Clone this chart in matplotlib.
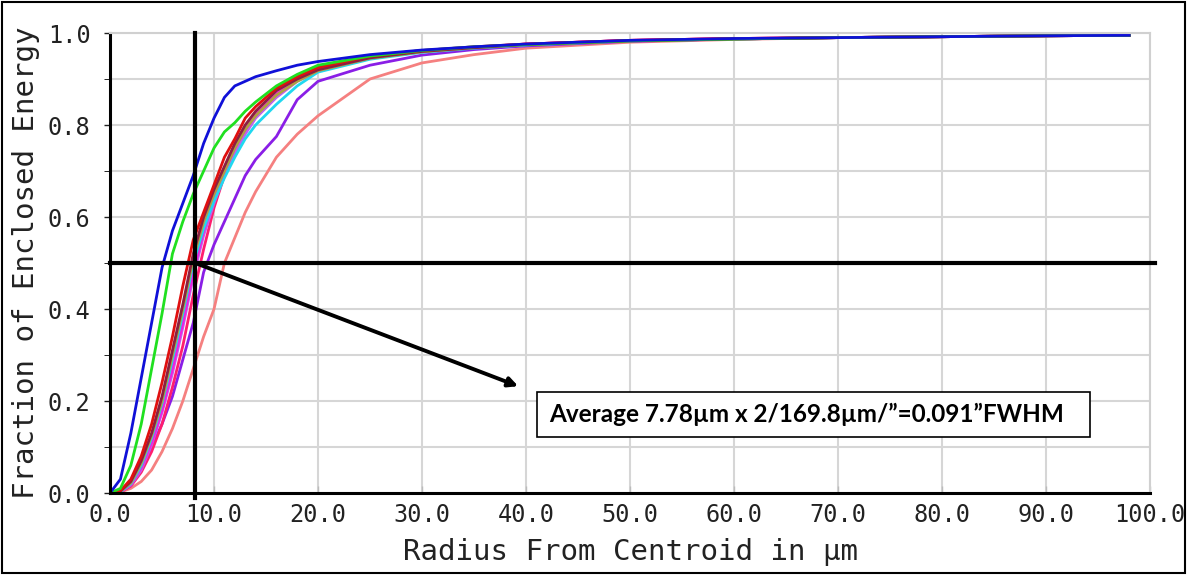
#Enclosed energy curves with FWHM marker lines and annotation box

import numpy as np; import matplotlib.pyplot as plt
from matplotlib.patches import Rectangle

#Radius samples (um) shared by every curve
radius = [0, 1, 2, 3, 4, 5, 6, 7, 8, 9, 10, 11, 12, 13, 14, 16, 18, 20, 25, 30, 35, 40, 50, 60, 70, 80, 90, 98]

#Fraction of enclosed energy, one list per field point
ee_blue    = [0, 0.03, 0.13, 0.25, 0.37, 0.49, 0.57, 0.63, 0.69, 0.76, 0.815, 0.86, 0.885, 0.895, 0.905, 0.918, 0.93, 0.938, 0.953, 0.963, 0.970, 0.976, 0.984, 0.988, 0.990, 0.992, 0.994, 0.995]
ee_green   = [0, 0.01, 0.06, 0.15, 0.27, 0.39, 0.52, 0.59, 0.65, 0.70, 0.75, 0.785, 0.805, 0.83, 0.85, 0.885, 0.91, 0.93, 0.95, 0.962, 0.970, 0.975, 0.983, 0.987, 0.990, 0.992, 0.994, 0.995]
ee_red     = [0, 0.005, 0.03, 0.08, 0.15, 0.24, 0.34, 0.45, 0.55, 0.61, 0.67, 0.73, 0.77, 0.815, 0.84, 0.88, 0.905, 0.925, 0.95, 0.962, 0.970, 0.976, 0.984, 0.988, 0.990, 0.992, 0.994, 0.995]
ee_maroon  = [0, 0.004, 0.025, 0.07, 0.13, 0.21, 0.31, 0.41, 0.52, 0.60, 0.66, 0.71, 0.76, 0.80, 0.83, 0.875, 0.90, 0.92, 0.946, 0.960, 0.968, 0.975, 0.983, 0.987, 0.990, 0.992, 0.994, 0.995]
ee_olive   = [0, 0.004, 0.022, 0.065, 0.125, 0.20, 0.30, 0.40, 0.51, 0.59, 0.65, 0.70, 0.75, 0.79, 0.82, 0.865, 0.895, 0.918, 0.945, 0.959, 0.968, 0.975, 0.983, 0.987, 0.990, 0.992, 0.994, 0.995]
ee_cyan    = [0, 0.003, 0.02, 0.06, 0.12, 0.195, 0.29, 0.39, 0.50, 0.575, 0.635, 0.685, 0.73, 0.77, 0.80, 0.845, 0.885, 0.915, 0.943, 0.958, 0.967, 0.974, 0.983, 0.987, 0.990, 0.992, 0.994, 0.995]
ee_magenta = [0, 0.003, 0.018, 0.055, 0.11, 0.18, 0.27, 0.37, 0.48, 0.57, 0.64, 0.70, 0.75, 0.79, 0.825, 0.87, 0.90, 0.92, 0.948, 0.961, 0.969, 0.976, 0.984, 0.988, 0.990, 0.992, 0.994, 0.995]
ee_orchid  = [0, 0.003, 0.017, 0.05, 0.105, 0.175, 0.26, 0.36, 0.47, 0.56, 0.63, 0.69, 0.74, 0.78, 0.815, 0.86, 0.895, 0.917, 0.945, 0.959, 0.968, 0.975, 0.983, 0.987, 0.990, 0.992, 0.994, 0.995]
ee_pink    = [0, 0.002, 0.015, 0.045, 0.09, 0.15, 0.23, 0.32, 0.43, 0.53, 0.62, 0.69, 0.74, 0.785, 0.82, 0.865, 0.90, 0.92, 0.947, 0.961, 0.969, 0.976, 0.984, 0.988, 0.990, 0.992, 0.994, 0.995]
ee_purple  = [0, 0.003, 0.02, 0.05, 0.10, 0.15, 0.21, 0.29, 0.37, 0.48, 0.54, 0.59, 0.64, 0.69, 0.725, 0.775, 0.855, 0.895, 0.93, 0.952, 0.964, 0.972, 0.982, 0.987, 0.990, 0.992, 0.994, 0.995]
ee_salmon  = [0, 0.002, 0.01, 0.025, 0.05, 0.09, 0.14, 0.20, 0.27, 0.34, 0.40, 0.50, 0.555, 0.61, 0.655, 0.73, 0.78, 0.82, 0.90, 0.935, 0.953, 0.967, 0.980, 0.986, 0.990, 0.992, 0.994, 0.996]

curves = [ee_salmon, ee_purple, ee_pink, ee_orchid, ee_magenta, ee_cyan, ee_olive, ee_maroon, ee_red, ee_green, ee_blue]
colors = ['#f58080', '#8a1ee6', '#ff1e6e', '#c060f0', '#f020e0', '#20d8f0', '#b0a040', '#8a2040', '#e01010', '#20e020', '#1010d8']

fwhm_x = 8.2          #vertical marker
arrow_end = (39.5, 0.23)
note = 'Average 7.78\u00b5m x 2/169.8\u00b5m/\u201d=0.091\u201dFWHM'

fig = plt.figure(figsize=(11.87, 5.75), dpi=100)
ax = fig.add_axes([0.0927, 0.1426, 0.8761, 0.8])

for yv, c in zip(curves, colors):
    ax.plot(radius, yv, color=c, lw=2)

ax.set_xlim(0, 100)
ax.set_ylim(0, 1.0)
ax.set_xticks(np.arange(0, 101, 10))
ax.set_xticklabels(['%.1f' % v for v in np.arange(0, 101, 10)])
ax.set_yticks(np.arange(0, 1.01, 0.2))
ax.set_yticklabels(['%.1f' % v for v in np.arange(0, 1.01, 0.2)])
ax.set_yticks(np.arange(0.1, 1.0, 0.2), minor=True)
ax.grid(True, which='both', axis='y', color='#d6d6d6', lw=1.5)
ax.grid(True, which='major', axis='x', color='#d6d6d6', lw=1.5)
ax.set_axisbelow(True)

mono = 'DejaVu Sans Mono'
ax.tick_params(axis='both', labelsize=17, colors='#222222', length=4, width=1)
ax.tick_params(axis='y', which='both', length=4, pad=10)
ax.tick_params(axis='x', direction='in', length=5, color='#bbbbbb', pad=7)
for lab in ax.get_xticklabels() + ax.get_yticklabels():
    lab.set_family(mono)
ax.set_xlabel('Radius From Centroid in \u00b5m', fontsize=21, family=mono, color='#222222', labelpad=8)
ax.set_ylabel('Fraction of Enclosed Energy', fontsize=21, family=mono, color='#222222', labelpad=6)

for s in ['top', 'right']:
    ax.spines[s].set_color('#d0d0d0')
    ax.spines[s].set_linewidth(1.5)
for s in ['left', 'bottom']:
    ax.spines[s].set_color('black')
    ax.spines[s].set_linewidth(2.2)

#FWHM marker lines
ax.plot([fwhm_x, fwhm_x], [-0.01, 1.0], color='black', lw=3, clip_on=False, zorder=5)
ax.plot([0, 100.5], [0.5, 0.5], color='black', lw=3, clip_on=False, zorder=5)
ax.annotate('', xy=arrow_end, xytext=(fwhm_x, 0.5),
            arrowprops=dict(arrowstyle='-|>', color='black', lw=2.8, mutation_scale=14), zorder=6)

#Annotation box
ax.add_patch(Rectangle((41.1, 0.122), 53.1, 0.098, facecolor='white', edgecolor='black', lw=1.2, zorder=6))
ax.text(42.2, 0.171, note, fontsize=17.5, fontweight='bold', family='Lato', va='center', ha='left', zorder=7)

#Outer frame
fig.add_artist(Rectangle((0.002, 0.003), 0.996, 0.994, transform=fig.transFigure, fill=False, edgecolor='black', lw=1.5))

plt.savefig('out.png', dpi=100)
